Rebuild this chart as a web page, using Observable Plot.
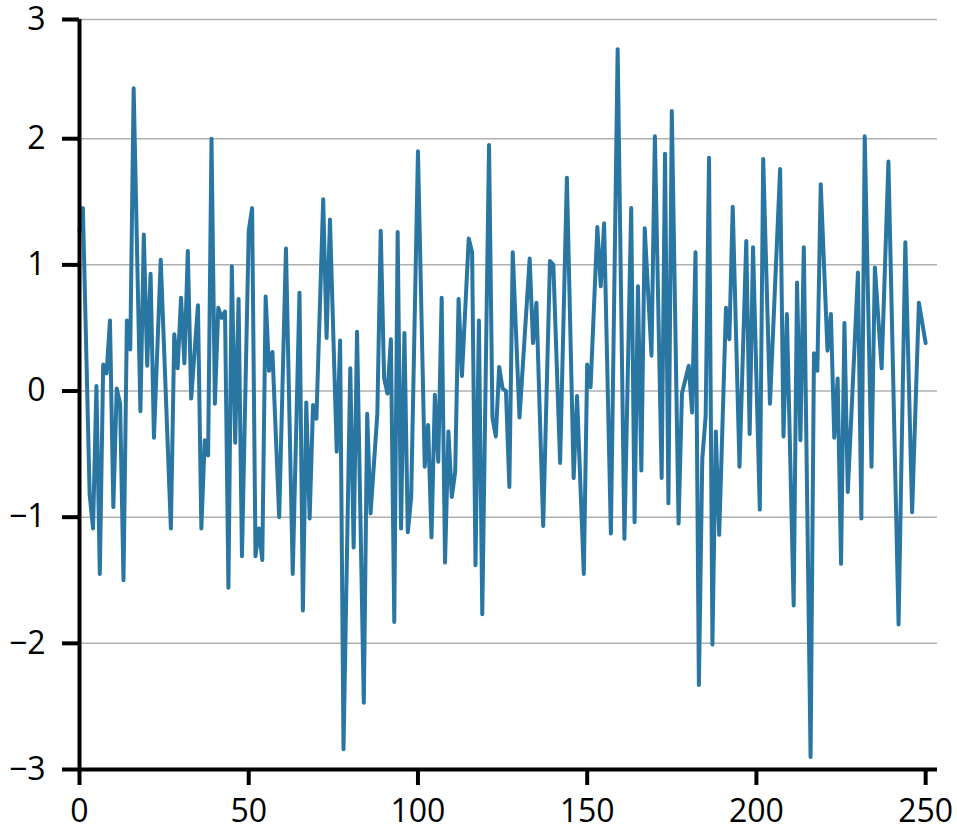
<!DOCTYPE html>
<html><head><meta charset="utf-8">
<script src="https://cdn.jsdelivr.net/npm/d3@7"></script>
<script src="https://cdn.jsdelivr.net/npm/@observablehq/plot@0.6"></script>
<style>body{margin:0;background:#fff} #chart svg{display:block}</style>
</head><body><div id="chart"></div>
<script>
const xIndex = [0,1,3,4,5,6,7,8,9,10,11,12,13,14,15,16,18,19,20,21,22,24,27,28,29,30,31,32,33,35,36,37,38,39,40,41,42,43,44,45,46,47,48,50,51,52,53,54,55,56,57,59,61,63,65,66,67,68,69,70,72,73,74,76,77,78,80,81,82,84,85,86,88,89,90,91,92,93,94,95,96,97,98,100,102,103,104,105,106,107,108,109,110,111,112,113,115,116,117,118,119,121,122,123,124,125,126,127,128,130,133,134,135,137,139,140,142,144,146,147,149,150,151,153,154,155,157,159,161,163,164,165,166,167,169,170,172,173,174,175,177,178,180,181,182,183,184,185,186,187,188,189,191,192,193,195,197,198,199,201,202,204,207,208,209,211,212,213,214,216,217,218,219,221,222,223,224,225,226,227,230,231,232,234,235,237,239,242,244,246,248,250];
const yValue = [1.27,1.45,-0.82,-1.09,0.04,-1.45,0.21,0.14,0.56,-0.92,0.02,-0.10,-1.50,0.56,0.33,2.40,-0.16,1.24,0.20,0.93,-0.37,1.04,-1.09,0.45,0.18,0.74,0.22,1.11,-0.06,0.68,-1.09,-0.39,-0.51,2.00,-0.10,0.66,0.58,0.63,-1.56,0.99,-0.41,0.73,-1.31,1.27,1.45,-1.31,-1.09,-1.34,0.75,0.16,0.31,-1.00,1.13,-1.45,0.78,-1.74,-0.09,-1.01,-0.11,-0.22,1.52,0.42,1.36,-0.48,0.40,-2.84,0.18,-1.24,0.47,-2.47,-0.18,-0.97,-0.18,1.27,0.10,-0.02,0.41,-1.83,1.26,-1.09,0.46,-1.12,-0.84,1.90,-0.60,-0.27,-1.16,-0.03,-0.56,0.74,-1.36,-0.32,-0.84,-0.64,0.73,0.12,1.21,1.10,-1.38,0.56,-1.77,1.95,-0.21,-0.36,0.19,0.02,0.00,-0.76,1.10,-0.21,1.05,0.38,0.70,-1.07,1.03,1.00,-0.57,1.69,-0.69,-0.04,-1.45,0.21,0.03,1.30,0.83,1.33,-1.13,2.71,-1.17,1.45,-1.04,0.83,-0.63,1.29,0.28,2.02,-0.69,1.88,-0.89,2.22,-1.05,-0.02,0.20,-0.17,1.10,-2.33,-0.54,-0.20,1.85,-2.01,-0.32,-1.14,0.66,0.41,1.46,-0.60,1.19,-0.34,1.14,-0.94,1.84,-0.10,1.76,-0.36,0.61,-1.70,0.86,-0.39,1.14,-2.90,0.30,0.16,1.64,0.32,0.61,-0.37,0.10,-1.37,0.54,-0.80,0.94,-1.01,2.02,-0.60,0.98,0.18,1.82,-1.85,1.18,-0.96,0.70,0.38];
const xTicks = [0, 50, 100, 150, 200, 250];
const yTicks = [-3, -2, -1, 0, 1, 2];
const yTopTick = 2.945; // top end of the axis, labelled "3" in the reference
const yTopLabel = "3";

const data = xIndex.map((x, i) => ({x, y: yValue[i]}));
const allYTicks = [...yTicks, yTopTick];
const fmtY = d => d === yTopTick ? yTopLabel : (d < 0 ? "\u2212" + Math.abs(d) : String(d));

const plot = Plot.plot({
  width: 957, height: 838,
  marginLeft: 79, marginRight: 20, marginTop: 19, marginBottom: 69,
  style: {fontFamily: "'Open Sans', sans-serif", fontSize: "32px", color: "#000", background: "#fff", overflow: "visible"},
  x: {domain: [0, 253.5], label: null},
  y: {domain: [-3, yTopTick], label: null},
  marks: [
    Plot.gridY(allYTicks, {stroke: "#b0b0b0", strokeOpacity: 1, strokeWidth: 1.5}),
    Plot.line(data, {x: "x", y: "y", stroke: "#2a76a2", strokeWidth: 4, strokeLinejoin: "round", strokeLinecap: "round"}),
    Plot.ruleX([0], {stroke: "#000", strokeWidth: 4}),
    Plot.ruleY([-3], {stroke: "#000", strokeWidth: 4}),
    Plot.axisY(allYTicks, {tickSize: 17, tickPadding: 17, tickFormat: fmtY, strokeWidth: 4, fontSize: 32, label: null}),
    Plot.axisX(xTicks, {tickSize: 16, tickPadding: 14, strokeWidth: 4, fontSize: 32, label: null, tickFormat: d => String(d)})
  ]
});
document.getElementById("chart").appendChild(plot);
</script>
</body></html>
